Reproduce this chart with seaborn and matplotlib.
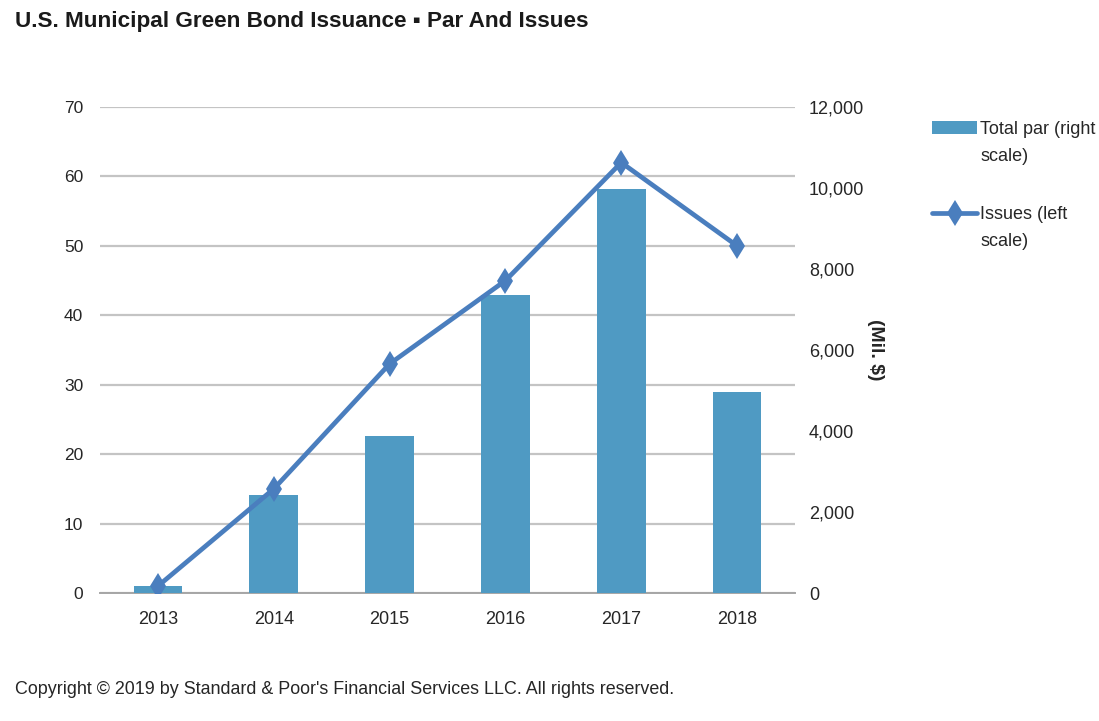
import numpy as np
import pandas as pd
import matplotlib
matplotlib.use("Agg")
import matplotlib.pyplot as plt
from matplotlib.ticker import FuncFormatter
import seaborn as sns

# ---- data ----
years = ["2013", "2014", "2015", "2016", "2017", "2018"]
total_par = [170, 2420, 3880, 7360, 9975, 4960]      # Mil. $ (right scale)
issues = [1, 15, 33, 45, 62, 50]                      # count (left scale)
left_ticks = [0, 10, 20, 30, 40, 50, 60, 70]
right_ticks = [0, 2000, 4000, 6000, 8000, 10000, 12000]

title = "U.S. Municipal Green Bond Issuance \u25aa Par And Issues"
copyright_txt = "Copyright \u00a9 2019 by Standard & Poor's Financial Services LLC. All rights reserved."
legend_labels = ["Total par (right\nscale)", "Issues (left\nscale)"]

sns.set_style("white")
plt.rcParams['font.family'] = ['Liberation Sans', 'DejaVu Sans']

BAR_C = "#4F9AC3"
LINE_C = "#4A7EBE"
GRID_C = "#C4C4C4"
AX_C = "#A6A6A6"
TXT_C = "#262626"

fig = plt.figure(figsize=(10.99, 7.21), dpi=100)
ax = fig.add_axes([0.091, 0.1775, 0.6324, 0.6741])
ax_bar = ax.twinx()
ax_line = ax.twinx()

df = pd.DataFrame({"year": years, "par": total_par, "issues": issues})

sns.barplot(data=df, x="year", y="par", ax=ax_bar, color=BAR_C,
            width=0.42, saturation=1, edgecolor="none", errorbar=None)
sns.pointplot(data=df, x="year", y="issues", ax=ax_line, color=LINE_C,
              markers="d", markersize=13, markeredgewidth=0,
              linewidth=3.4, errorbar=None)

# limits
ax.set_xlim(-0.5, len(years) - 0.5)
ax.set_ylim(0, 70)
ax_line.set_ylim(0, 70)
ax_bar.set_ylim(0, 12000)

# left axis (grid + labels)
ax.set_yticks(left_ticks)
ax.yaxis.grid(True, color=GRID_C, linewidth=1.6)
ax.xaxis.grid(False)
ax.set_axisbelow(True)
ax.tick_params(axis="y", length=0, pad=12, labelsize=12.5, labelcolor=TXT_C)

# x axis
ax.set_xticks(range(len(years)))
ax.set_xticklabels(years)
ax.set_xticks(np.arange(-0.5, len(years), 1), minor=True)
ax.tick_params(axis="x", which="major", length=0, pad=13, labelsize=13, labelcolor=TXT_C)
ax.tick_params(axis="x", which="minor", length=8, width=1.2, color=AX_C, direction="out")

for s in ["top", "left", "right"]:
    ax.spines[s].set_visible(False)
ax.spines["bottom"].set_color(AX_C)
ax.spines["bottom"].set_linewidth(1.4)

# right axis (bars)
ax_bar.set_yticks(right_ticks)
ax_bar.yaxis.set_major_formatter(FuncFormatter(lambda v, p: f"{int(v):,}"))
ax_bar.tick_params(axis="y", length=0, pad=10, labelsize=13, labelcolor=TXT_C)
ax_bar.set_ylabel("(Mil. $)", rotation=270, fontweight="bold", fontsize=14,
                  labelpad=14, color=TXT_C)
for s in ax_bar.spines.values():
    s.set_visible(False)

# line axis hidden
ax_line.set_yticks([])
ax_line.set_ylabel("")
for s in ax_line.spines.values():
    s.set_visible(False)
ax.set_xlabel("")
ax_bar.set_xlabel("")
ax_line.set_xlabel("")

# legend
handles = [ax_bar.patches[0], ax_line.lines[0]]
leg = fig.legend(handles, legend_labels, loc="upper left",
                 bbox_to_anchor=(925 / 1099, 1 - 114 / 721), frameon=False,
                 fontsize=13, handlelength=2.5, handletextpad=0.15,
                 labelspacing=2.3, numpoints=1, borderaxespad=0)
for t in leg.get_texts():
    t.set_linespacing(1.75)
    t.set_color(TXT_C)
try:
    for col in leg._legend_handle_box.get_children():
        for row in col.get_children():
            row.align = "top"
except Exception:
    pass

fig.text(15 / 1099, 1 - 22 / 721, title, fontweight="bold", fontsize=16.2,
         ha="left", va="center", color="#1a1a1a",
         family=['Liberation Sans', 'DejaVu Sans'])
fig.text(15 / 1099, 1 - 690 / 721, copyright_txt, fontsize=12.9,
         ha="left", va="center", color=TXT_C)

fig.savefig("out.png", dpi=100, facecolor="white")
